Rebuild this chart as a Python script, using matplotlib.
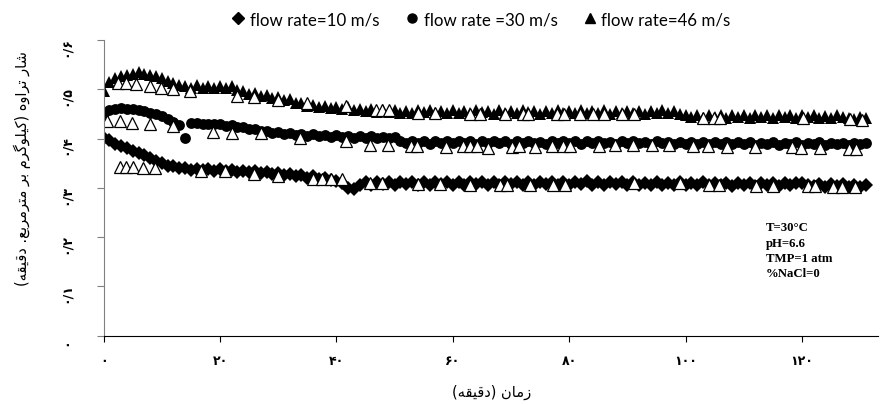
import matplotlib
matplotlib.use("Agg")
import matplotlib.pyplot as plt
import matplotlib.transforms as mtransforms
from matplotlib.lines import Line2D

# zaman (daghighe)
zaman = list(range(0, 132))

# flow rate = 10 m/s
flux_10 = [0.402, 0.396, 0.389, 0.384, 0.380, 0.375, 0.371, 0.366, 0.361, 0.355,
           0.350, 0.345, 0.344, 0.340, 0.341, 0.337, 0.339, 0.336, 0.338, 0.335,
           0.338, 0.334, 0.336, 0.332, 0.335, 0.331, 0.333, 0.329, 0.331, 0.327,
           0.330, 0.325, 0.328, 0.323, 0.326, 0.320, 0.323, 0.317, 0.320, 0.315,
           0.313, 0.310, 0.300, 0.298, 0.306, 0.311, 0.306, 0.312, 0.307, 0.311,
           0.306, 0.312, 0.307, 0.311, 0.305, 0.312, 0.306, 0.311, 0.307, 0.312,
           0.305, 0.311, 0.306, 0.312, 0.307, 0.311, 0.305, 0.312, 0.306, 0.311,
           0.307, 0.312, 0.306, 0.311, 0.305, 0.312, 0.307, 0.311, 0.306, 0.312,
           0.306, 0.311, 0.307, 0.313, 0.306, 0.312, 0.305, 0.311, 0.307, 0.312,
           0.306, 0.311, 0.305, 0.310, 0.306, 0.311, 0.305, 0.310, 0.306, 0.311,
           0.305, 0.310, 0.306, 0.311, 0.305, 0.309, 0.306, 0.310, 0.304, 0.310,
           0.305, 0.309, 0.304, 0.310, 0.305, 0.309, 0.304, 0.309, 0.305, 0.310,
           0.309, 0.306, 0.303, 0.308, 0.302, 0.307, 0.303, 0.308, 0.302, 0.306,
           0.302, 0.305]

# flow rate = 30 m/s
flux_30 = [0.452, 0.457, 0.460, 0.461, 0.460, 0.459, 0.458, 0.455, 0.452, 0.449,
           0.445, 0.440, 0.434, 0.427, 0.401, 0.431, 0.431, 0.430, 0.430, 0.429,
           0.429, 0.426, 0.427, 0.424, 0.423, 0.420, 0.420, 0.416, 0.415, 0.412,
           0.413, 0.409, 0.411, 0.407, 0.410, 0.406, 0.409, 0.405, 0.408, 0.404,
           0.407, 0.403, 0.406, 0.402, 0.405, 0.401, 0.405, 0.401, 0.404, 0.402,
           0.404, 0.394, 0.390, 0.395, 0.391, 0.394, 0.389, 0.395, 0.390, 0.394,
           0.390, 0.395, 0.391, 0.394, 0.389, 0.395, 0.390, 0.394, 0.391, 0.395,
           0.389, 0.394, 0.390, 0.395, 0.391, 0.393, 0.389, 0.394, 0.390, 0.395,
           0.390, 0.394, 0.389, 0.395, 0.391, 0.394, 0.390, 0.393, 0.389, 0.394,
           0.391, 0.395, 0.390, 0.393, 0.389, 0.394, 0.390, 0.393, 0.388, 0.392,
           0.389, 0.393, 0.388, 0.392, 0.389, 0.393, 0.388, 0.392, 0.389, 0.393,
           0.388, 0.392, 0.387, 0.391, 0.388, 0.392, 0.387, 0.391, 0.388, 0.392,
           0.387, 0.391, 0.388, 0.392, 0.387, 0.391, 0.388, 0.391, 0.387, 0.391,
           0.388, 0.390]

# flow rate = 46 m/s
flux_46 = [0.497, 0.515, 0.522, 0.527, 0.528, 0.530, 0.535, 0.531, 0.528, 0.526,
           0.522, 0.517, 0.512, 0.508, 0.507, 0.503, 0.508, 0.503, 0.507, 0.502,
           0.507, 0.502, 0.506, 0.499, 0.497, 0.491, 0.492, 0.486, 0.488, 0.483,
           0.485, 0.479, 0.480, 0.473, 0.473, 0.467, 0.469, 0.463, 0.467, 0.462,
           0.464, 0.460, 0.463, 0.458, 0.459, 0.455, 0.459, 0.454, 0.458, 0.453,
           0.457, 0.452, 0.456, 0.451, 0.457, 0.453, 0.458, 0.452, 0.456, 0.451,
           0.457, 0.452, 0.455, 0.451, 0.457, 0.453, 0.456, 0.450, 0.457, 0.452,
           0.456, 0.451, 0.457, 0.453, 0.455, 0.450, 0.456, 0.452, 0.457, 0.451,
           0.456, 0.452, 0.457, 0.451, 0.455, 0.452, 0.457, 0.450, 0.456, 0.452,
           0.456, 0.451, 0.455, 0.450, 0.456, 0.452, 0.457, 0.451, 0.455, 0.450,
           0.448, 0.443, 0.447, 0.442, 0.448, 0.444, 0.447, 0.442, 0.448, 0.443,
           0.447, 0.442, 0.448, 0.443, 0.447, 0.441, 0.448, 0.443, 0.447, 0.442,
           0.448, 0.443, 0.447, 0.442, 0.446, 0.441, 0.447, 0.443, 0.441, 0.440,
           0.443, 0.441]

# open triangles scattered along each curve
open_46_t = [2.5, 3.9, 5.6, 7.9, 9.9, 11.9, 14.8, 22.9, 25.8, 30.0, 34.9, 41.7,
             46.8, 47.9, 49.0, 54.0, 56.9, 62.9, 64.7, 69.0, 72.0, 73.0, 77.9,
             79.1, 81.9, 84.1, 85.9, 89.1, 91.1, 103.0, 104.9, 105.9, 120.1,
             128.2, 130.3]
open_46_v = [0.513, 0.513, 0.510, 0.506, 0.503, 0.500, 0.497, 0.486, 0.484,
             0.479, 0.472, 0.466, 0.458, 0.458, 0.457, 0.452, 0.451, 0.450,
             0.450, 0.449, 0.449, 0.449, 0.449, 0.449, 0.449, 0.449, 0.449,
             0.449, 0.449, 0.442, 0.442, 0.442, 0.441, 0.439, 0.438]
open_30_t = [0.5, 2.8, 4.8, 8.0, 11.9, 18.8, 22.0, 27.0, 33.7, 41.7, 45.7, 48.9,
             52.9, 53.9, 58.9, 61.8, 62.9, 64.1, 66.1, 70.1, 71.3, 74.1, 77.0,
             79.0, 80.1, 85.2, 87.9, 91.0, 94.2, 97.2, 101.2, 103.9, 107.1,
             111.9, 118.2, 119.9, 123.1, 128.1, 129.3]
open_30_v = [0.436, 0.436, 0.431, 0.429, 0.425, 0.413, 0.411, 0.411, 0.401,
             0.394, 0.386, 0.386, 0.384, 0.384, 0.382, 0.384, 0.384, 0.384,
             0.380, 0.382, 0.384, 0.382, 0.384, 0.384, 0.384, 0.384, 0.387,
             0.387, 0.386, 0.386, 0.384, 0.385, 0.383, 0.382, 0.382, 0.381,
             0.380, 0.379, 0.379]
open_10_t = [2.8, 3.9, 5.0, 6.8, 8.8, 16.8, 20.8, 25.8, 30.0, 36.0, 37.6, 39.0,
             40.9, 45.8, 47.9, 54.0, 57.8, 62.9, 68.1, 69.3, 73.3, 77.3, 79.2,
             91.1, 99.1, 104.1, 105.8, 112.1, 115.1, 121.1, 122.3, 125.4,
             126.8, 129.1]
open_10_v = [0.343, 0.343, 0.343, 0.341, 0.340, 0.333, 0.333, 0.327, 0.323,
             0.318, 0.318, 0.318, 0.318, 0.310, 0.309, 0.307, 0.307, 0.306,
             0.306, 0.306, 0.306, 0.306, 0.306, 0.310, 0.310, 0.306, 0.305,
             0.304, 0.304, 0.303, 0.303, 0.302, 0.302, 0.302]

x_ticks = [0, 20, 40, 60, 80, 100, 120]
x_tick_labels = ["۰", "۲۰", "۴۰", "۶۰", "۸۰", "۱۰۰", "۱۲۰"]
y_ticks = [0, 0.1, 0.2, 0.3, 0.4, 0.5, 0.6]
y_tick_labels = ["۰", "۰/۱", "۰/۲", "۰/۳", "۰/۴", "۰/۵", "۰/۶"]
legend_labels = ["flow rate=10 m/s", "flow rate =30 m/s", "flow rate=46 m/s"]
x_title = "زمان (دقیقه)"
y_title = "شار تراوه (کیلوگرم بر مترمربع. دقیقه)"
note = "T=30°C\npH=6.6\nTMP=1 atm\n%NaCl=0"

# simple persian shaping (matplotlib has no bidi / joining)
FORMS = {
    "ا": (0xFE8D, 0xFE8E), "ب": (0xFE8F, 0xFE90, 0xFE91, 0xFE92),
    "ت": (0xFE95, 0xFE96, 0xFE97, 0xFE98), "د": (0xFEA9, 0xFEAA),
    "ر": (0xFEAD, 0xFEAE), "ز": (0xFEAF, 0xFEB0),
    "ش": (0xFEB5, 0xFEB6, 0xFEB7, 0xFEB8), "ع": (0xFEC9, 0xFECA, 0xFECB, 0xFECC),
    "ق": (0xFED5, 0xFED6, 0xFED7, 0xFED8), "ل": (0xFEDD, 0xFEDE, 0xFEDF, 0xFEE0),
    "م": (0xFEE1, 0xFEE2, 0xFEE3, 0xFEE4), "ن": (0xFEE5, 0xFEE6, 0xFEE7, 0xFEE8),
    "ه": (0xFEE9, 0xFEEA, 0xFEEB, 0xFEEC), "و": (0xFEED, 0xFEEE),
    "ک": (0xFB8E, 0xFB8F, 0xFB90, 0xFB91), "گ": (0xFB92, 0xFB93, 0xFB94, 0xFB95),
    "ی": (0xFBFC, 0xFBFD, 0xFBFE, 0xFBFF),
}


def dual(c):
    return c in FORMS and len(FORMS[c]) == 4


def shape_fa(text):
    out = []
    for i, ch in enumerate(text):
        if ch not in FORMS:
            out.append(ch)
            continue
        prev = text[i - 1] if i > 0 else ""
        nxt = text[i + 1] if i < len(text) - 1 else ""
        jp = dual(prev)
        jn = dual(ch) and nxt in FORMS
        f = FORMS[ch]
        if jp and jn:
            out.append(chr(f[3]))
        elif jp:
            out.append(chr(f[1]))
        elif jn:
            out.append(chr(f[2]))
        else:
            out.append(chr(f[0]))
    vis = "".join(reversed(out))
    return vis.translate(str.maketrans("()", ")("))


fig = plt.figure(figsize=(8.8, 4.06), dpi=100)
ax = fig.add_axes([103.6 / 880, (406 - 336.5) / 406, (878 - 103.6) / 880, (336.5 - 41) / 406])

ax.plot(zaman, flux_10, ls="none", marker="D", ms=7, color="black", mew=0)
ax.plot(zaman, flux_30, ls="none", marker="o", ms=7.8, color="black", mew=0)
ax.plot(zaman, flux_46, ls="none", marker="^", ms=8.3, color="black", mew=0)
for tt, vv in [(open_46_t, open_46_v), (open_30_t, open_30_v), (open_10_t, open_10_v)]:
    ax.plot(tt, vv, ls="none", marker="^", ms=8, mfc="white", mec="black", mew=0.9)

ax.set_xlim(0, (878 - 103.6) / 5.82)
ax.set_ylim(0, 0.6)
ax.set_xticks(x_ticks)
ax.set_xticklabels(x_tick_labels, fontsize=9, fontweight="bold", family="DejaVu Sans")
ax.set_yticks(y_ticks)
ax.set_yticklabels(y_tick_labels, fontsize=9, fontweight="bold", family="DejaVu Sans",
                   rotation=90, va="center")
ax.spines["top"].set_visible(False)
ax.spines["right"].set_visible(False)
ax.spines["left"].set_color("#808080")
ax.spines["bottom"].set_color("black")
ax.tick_params(axis="y", direction="out", length=5, color="#808080", pad=17)
ax.tick_params(axis="x", direction="out", length=4, color="black", pad=9)
shift = mtransforms.ScaledTranslation(0, -6 / 100, fig.dpi_scale_trans)
for lab in ax.get_yticklabels():
    lab.set_transform(lab.get_transform() + shift)

fig.text(22 / 880, 1 - 169 / 406, shape_fa(y_title), rotation=90, ha="center",
         va="center", fontsize=10.5, family="DejaVu Sans")
fig.text(492 / 880, 1 - 392 / 406, shape_fa(x_title), ha="center", va="center",
         fontsize=10.5, family="DejaVu Sans")

ax.text(766 / 880, 1 - 222.5 / 406, note, transform=fig.transFigure, ha="left", va="top",
        fontsize=9.2, fontweight="bold", family="Liberation Serif", linespacing=1.36)

handles = [Line2D([], [], ls="none", marker="D", ms=6, color="black"),
           Line2D([], [], ls="none", marker="o", ms=6.5, color="black"),
           Line2D([], [], ls="none", marker="^", ms=7, color="black")]
fig.legend(handles, legend_labels, loc="center", bbox_to_anchor=(481 / 880, 1 - 20 / 406),
           ncol=3, frameon=False, handlelength=0.8, handletextpad=0.3, columnspacing=1.5,
           prop={"family": "Lato", "size": 12.2})

fig.savefig("out.png", dpi=100)
